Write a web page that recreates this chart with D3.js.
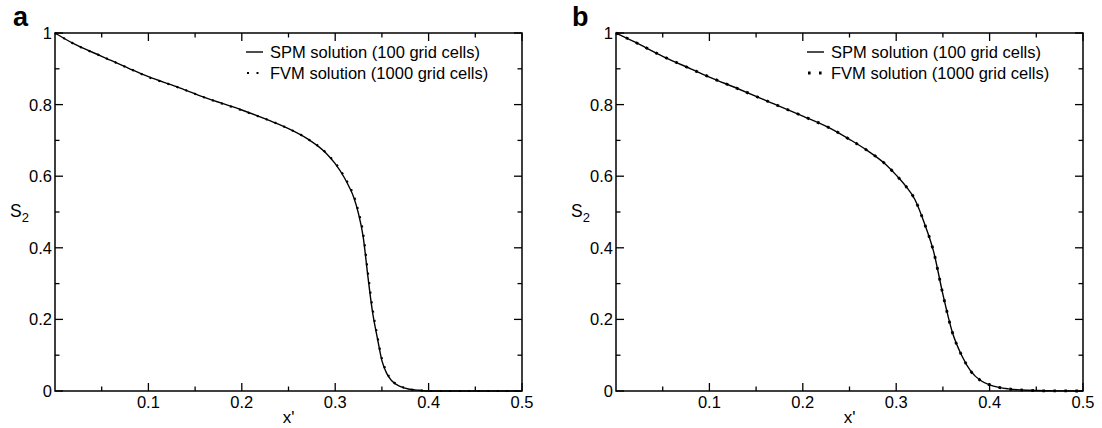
<!DOCTYPE html>
<html>
<head>
<meta charset="utf-8">
<script src="https://cdn.jsdelivr.net/npm/d3@7"></script>
<style>
  body { margin: 0; background: #fff; }
  svg text { font-family: "Liberation Sans", Arial, sans-serif; fill: #000; }
</style>
</head>
<body>
<div id="grafica"></div>
<script>
// panel a
const xA = [0, 0.02, 0.05, 0.08, 0.1, 0.13, 0.16, 0.2, 0.23, 0.25, 0.27, 0.29, 0.3, 0.31, 0.315, 0.32, 0.325, 0.33, 0.335, 0.34, 0.345, 0.35, 0.355, 0.36, 0.37, 0.38, 0.39, 0.4, 0.45, 0.5]
const spmA = [1, 0.97, 0.935, 0.9, 0.878, 0.85, 0.82, 0.785, 0.755, 0.733, 0.705, 0.665, 0.635, 0.595, 0.57, 0.54, 0.495, 0.43, 0.32, 0.22, 0.15, 0.085, 0.05, 0.03, 0.012, 0.005, 0.002, 0, 0, 0]
const fvmA = [1, 0.97, 0.935, 0.9, 0.877, 0.85, 0.82, 0.784, 0.755, 0.733, 0.705, 0.666, 0.637, 0.598, 0.574, 0.545, 0.5, 0.44, 0.33, 0.23, 0.155, 0.09, 0.053, 0.032, 0.013, 0.005, 0.002, 0, 0, 0]
// panel b
const xB = [0, 0.02, 0.05, 0.08, 0.1, 0.13, 0.16, 0.2, 0.23, 0.25, 0.27, 0.29, 0.3, 0.31, 0.32, 0.33, 0.34, 0.35, 0.36, 0.37, 0.38, 0.39, 0.4, 0.41, 0.42, 0.44, 0.46, 0.5]
const spmB = [1, 0.975, 0.935, 0.9, 0.877, 0.845, 0.812, 0.768, 0.733, 0.703, 0.67, 0.63, 0.603, 0.573, 0.535, 0.47, 0.39, 0.27, 0.165, 0.1, 0.055, 0.03, 0.017, 0.01, 0.006, 0.002, 0.0005, 0]
const fvmB = spmB

const xTicks = [0.1, 0.2, 0.3, 0.4, 0.5]
const yTicks = [0, 0.2, 0.4, 0.6, 0.8, 1]
const legendLabels = ["SPM solution (100 grid cells)", "FVM solution (1000 grid cells)"]

const anchoTotal = 1102
const altoTotal = 428
const svg = d3.select("#grafica")
  .append("svg")
  .attr("width", anchoTotal)
  .attr("height", altoTotal)

const panels = [
  { letra: "a", left: 55, xs: xA, spm: spmA, fvm: fvmA, letraX: 13, legX: 246, dash: "2,7.5", dotW: 2.2 },
  { letra: "b", left: 616, xs: xB, spm: spmB, fvm: fvmB, letraX: 572, legX: 807, dash: "2.6,8.4", dotW: 2.8 },
]
const ancho = 467
const margenTop = 33
const alto = 358

panels.forEach((p) => {
  const x = d3.scaleLinear().domain([0, 0.5]).range([p.left, p.left + ancho])
  const y = d3.scaleLinear().domain([0, 1]).range([margenTop + alto, margenTop])
  const g = svg.append("g")

  // ticks inward on all sides
  const fmt = (d) => (d === 0 || d === 1 ? String(d) : d3.format(".1f")(d))
  const xMinor = d3.range(0.05, 0.5, 0.1)
  const yMinor = d3.range(0.1, 1, 0.2)
  const tickLines = [
    ...xTicks.map((t) => [t, 8, "x"]), ...xMinor.map((t) => [t, 4.5, "x"]),
    ...yTicks.map((t) => [t, 8, "y"]), ...yMinor.map((t) => [t, 4.5, "y"]),
  ]
  tickLines.forEach(([t, len, ax]) => {
    if (ax === "x") {
      g.append("line").attr("x1", x(t)).attr("x2", x(t)).attr("y1", y(0)).attr("y2", y(0) - len).attr("stroke", "#000").attr("stroke-width", 1.3)
      g.append("line").attr("x1", x(t)).attr("x2", x(t)).attr("y1", y(1)).attr("y2", y(1) + len).attr("stroke", "#000").attr("stroke-width", 1.3)
    } else {
      g.append("line").attr("x1", x(0)).attr("x2", x(0) + len).attr("y1", y(t)).attr("y2", y(t)).attr("stroke", "#000").attr("stroke-width", 1.3)
      g.append("line").attr("x1", x(0.5)).attr("x2", x(0.5) - len).attr("y1", y(t)).attr("y2", y(t)).attr("stroke", "#000").attr("stroke-width", 1.3)
    }
  })

  g.selectAll(".xl").data(xTicks).enter().append("text")
    .attr("x", (d) => x(d)).attr("y", y(0) + 17)
    .attr("text-anchor", "middle").attr("font-size", 16.5)
    .text(fmt)
  g.selectAll(".yl").data(yTicks).enter().append("text")
    .attr("x", x(0) - 3).attr("y", (d) => y(d) + 6)
    .attr("text-anchor", "end").attr("font-size", 16.5)
    .text(fmt)

  // axis titles
  g.append("text").attr("x", x(0.25)).attr("y", 423).attr("text-anchor", "middle").attr("font-size", 17).text("x'")
  const s2 = g.append("text").attr("x", p.left - 45).attr("y", y(0.5) + 5).attr("font-size", 17.5)
  s2.append("tspan").text("S")
  s2.append("tspan").attr("font-size", 13).attr("dy", 5).text("2")

  g.append("text").attr("x", p.letraX).attr("y", 26).attr("font-size", 27).attr("font-weight", "bold").text(p.letra)

  // curves
  const line = (vals) => d3.line()
    .x((d, i) => x(p.xs[i]))
    .y((d) => y(d))
    .curve(d3.curveMonotoneX)(vals)
  g.append("path").attr("d", line(p.spm)).attr("fill", "none").attr("stroke", "#000").attr("stroke-width", 1.4)
  g.append("path").attr("d", line(p.fvm)).attr("fill", "none").attr("stroke", "#000")
    .attr("stroke-width", p.dotW).attr("stroke-dasharray", p.dash)

  // frame
  g.append("rect").attr("x", x(0)).attr("y", y(1)).attr("width", ancho).attr("height", alto)
    .attr("fill", "none").attr("stroke", "#000").attr("stroke-width", 1.5)

  // legend
  const leg = g.append("g")
  leg.append("line").attr("x1", p.legX).attr("x2", p.legX + 17).attr("y1", 52).attr("y2", 52).attr("stroke", "#000").attr("stroke-width", 1.4)
  leg.append("line").attr("x1", p.legX + 1).attr("x2", p.legX + 17).attr("y1", 73).attr("y2", 73).attr("stroke", "#000")
    .attr("stroke-width", p.dotW).attr("stroke-dasharray", p.dash)
  legendLabels.forEach((t, i) => {
    leg.append("text").attr("x", p.legX + 24).attr("y", 58 + i * 21).attr("font-size", 16.5).text(t)
  })
})
</script>
</body>
</html>
